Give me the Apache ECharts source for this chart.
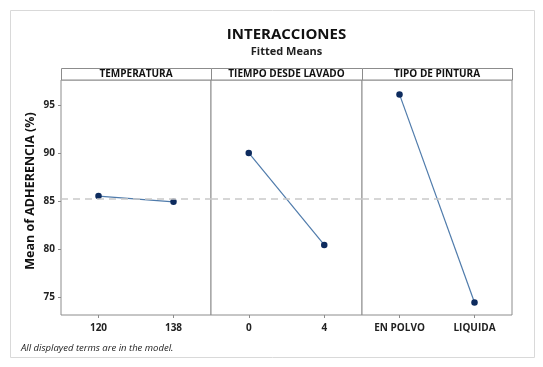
<!DOCTYPE html>
<html><head><meta charset="utf-8">
<script src="https://cdn.jsdelivr.net/npm/echarts@6/dist/echarts.min.js"></script>
<style>html,body{margin:0;padding:0;background:#fff}#c{width:543px;height:367px}</style>
</head><body><div id="c"></div>
<script>
const chartTitle = 'INTERACCIONES';
const chartSubtitle = 'Fitted Means';
const yAxisName = 'Mean of ADHERENCIA (%)';
const footnote = 'All displayed terms are in the model.';
const panelTitles = ['TEMPERATURA', 'TIEMPO DESDE LAVADO', 'TIPO DE PINTURA'];
const categories = [['120', '138'], ['0', '4'], ['EN POLVO', 'LIQUIDA']];
const fittedMeans = [[85.5, 84.9], [90.0, 80.4], [96.1, 74.4]];
const grandMean = 85.23;
const yTicks = [75, 80, 85, 90, 95];

const F = '"Open Sans", "Noto Sans", sans-serif';
const lefts = [61, 211, 362];
const widths = [150, 151, 150];
const gTop = 80, gHeight = 235;

const grids = [], xAxes = [], yAxes = [], series = [], graphics = [];
graphics.push({type:'rect', shape:{x:10.5,y:10.5,width:524,height:347}, style:{fill:'none', stroke:'#d9d9d9', lineWidth:1}});
graphics.push({type:'text', x:286.5, y:35, style:{text:chartTitle, fontFamily:F, fontWeight:'bold', fontSize:15, fill:'#111', align:'center', verticalAlign:'middle'}});
graphics.push({type:'text', x:286.5, y:51.5, style:{text:chartSubtitle, fontFamily:F, fontWeight:'bold', fontSize:11, fill:'#222', align:'center', verticalAlign:'middle'}});
graphics.push({type:'text', x:30, y:191, rotation:Math.PI/2, style:{text:yAxisName, fontFamily:F, fontWeight:'bold', fontSize:12.5, fill:'#111', align:'center', verticalAlign:'middle'}});
for (let i = 0; i < 3; i++) {
  grids.push({left: lefts[i], top: gTop, width: widths[i], height: gHeight, show: true, borderColor: '#8c8c8c', borderWidth: 1, backgroundColor: '#fff'});
  xAxes.push({type:'category', gridIndex:i, data:categories[i], boundaryGap:true,
    axisLine:{show:false}, axisTick:{show:true, alignWithLabel:true, length:3, lineStyle:{color:'#8c8c8c'}},
    axisLabel:{fontFamily:F, fontWeight:'bold', fontSize:10, color:'#222', margin:8, interval:0},
    splitLine:{show:false}});
  yAxes.push({type:'value', gridIndex:i, min:73.1, max:97.6,
    axisLine:{show:false}, axisTick:{show:i===0, length:3, customValues: yTicks, lineStyle:{color:'#8c8c8c'}},
    axisLabel:{show:i===0, fontFamily:F, fontWeight:'bold', fontSize:10, color:'#222', margin:6, customValues: yTicks},
    splitLine:{show:false}});
  series.push({type:'line', xAxisIndex:i, yAxisIndex:i, data:fittedMeans[i],
    symbol:'circle', symbolSize:6.5, itemStyle:{color:'#0d2b5e'},
    lineStyle:{color:'#4f7bab', width:1.2}, animation:false,
    markLine:{silent:true, symbol:'none', label:{show:false},
      lineStyle:{color:'#c9c9c9', type:[7,5], width:1.5},
      data:[{yAxis: grandMean}]}, z:3});
  graphics.push({type:'rect', shape:{x:lefts[i]+0.5, y:68.5, width:widths[i], height:11.5}, style:{fill:'#fff', stroke:'#8c8c8c', lineWidth:1}});
  graphics.push({type:'text', x:lefts[i]+widths[i]/2, y:74.5, style:{text:panelTitles[i], fontFamily:F, fontWeight:'bold', fontSize:10, fill:'#111', align:'center', verticalAlign:'middle'}});
}
graphics.push({type:'text', x:21, y:348, style:{text:footnote, fontFamily:F, fontStyle:'italic', fontSize:9.5, fill:'#222', align:'left', verticalAlign:'middle'}});

const chart = echarts.init(document.getElementById('c'));
chart.setOption({
  animation:false,
  grid: grids, xAxis: xAxes, yAxis: yAxes, series: series, graphic: graphics
});
</script></body></html>
